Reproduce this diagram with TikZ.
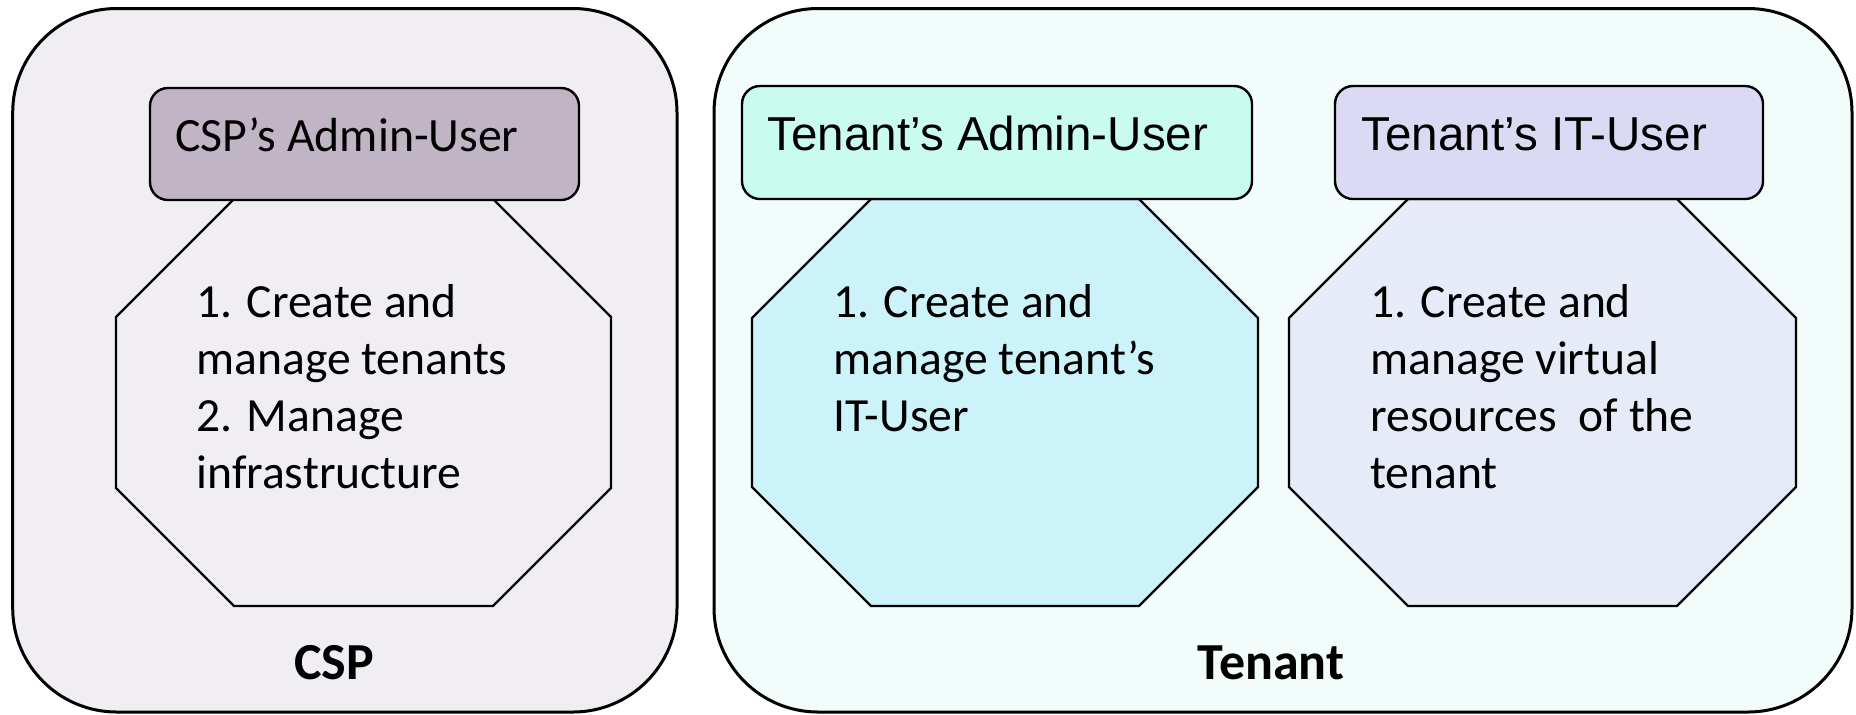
\documentclass[tikz,border=0pt]{standalone}
\usepackage{fontspec}
\setmainfont{Carlito}
\newfontfamily\hdrfont{Liberation Sans}
\usetikzlibrary{positioning}

\definecolor{cspbg}{HTML}{F0EEF2}
\definecolor{cspuser}{HTML}{C1B4C4}
\definecolor{tenbg}{HTML}{F2FCFA}
\definecolor{admuser}{HTML}{C9FCEF}
\definecolor{admoct}{HTML}{CCF2FA}
\definecolor{ituser}{HTML}{DBDAF5}
\definecolor{itoct}{HTML}{E6EBF8}

% octagon with corners cut at 45 degrees: x1, x2, y1, y2, cut
\newcommand{\cutoctagon}[6][]{%
  \draw[octline,#1] ({#2+#6},#4) -- ({#3-#6},#4) -- (#3,{#4+#6}) -- (#3,{#5-#6})
    -- ({#3-#6},#5) -- ({#2+#6},#5) -- (#2,{#5-#6}) -- (#2,{#4+#6}) -- cycle;}

\begin{document}
\begin{tikzpicture}[x=0.5pt,y=-0.5pt,
  container/.style={draw=black, line width=1.5pt, rounded corners=52pt,
    inner sep=0pt, outer sep=0pt, anchor=north west},
  userbox/.style={draw=black, line width=1.2pt, rounded corners=9pt,
    inner sep=0pt, outer sep=0pt, anchor=north west},
  octline/.style={draw=black, line width=1.2pt},
  hdrcsp/.style={anchor=base west, inner sep=0pt, font=\fontsize{23.9pt}{28pt}\selectfont},
  hdrten/.style={anchor=base west, inner sep=0pt, font=\hdrfont\fontsize{23.8pt}{28pt}\selectfont},
  duty/.style={anchor=base west, inner sep=0pt, align=left,
    font=\fontsize{23.8pt}{28.5pt}\selectfont},
  domainlabel/.style={anchor=base, inner sep=0pt, font=\bfseries\fontsize{26pt}{30pt}\selectfont}]

\useasboundingbox (0,0) rectangle (1856,714);

% the two domains
\node[container, fill=cspbg, minimum width=332.15pt, minimum height=351.75pt] (csp) at (12.7,8.5) {};
\node[container, fill=tenbg, minimum width=569pt, minimum height=351.75pt] (tenant) at (714,8.5) {};

% duty octagons
\cutoctagon[fill=cspbg]{116}{611}{199}{606}{118}
\cutoctagon[fill=admoct]{752}{1258}{199}{606}{119}
\cutoctagon[fill=itoct]{1289}{1796}{199}{606}{119}

% user boxes
\node[userbox, fill=cspuser, minimum width=214.5pt, minimum height=56pt] (cspadmin) at (150,88) {};
\node[userbox, fill=admuser, minimum width=255pt, minimum height=56.5pt] (tenadmin) at (742,86) {};
\node[userbox, fill=ituser, minimum width=214pt, minimum height=56.5pt] (tenit) at (1335,86) {};

\node[hdrcsp] (cspadminlbl) at (175,151) {CSP’s Admin-User};
\node[hdrten] (tenadminlbl) at (767,150) {Tenant’s Admin-User};
\node[hdrten] (tenitlbl) at (1361,150) {Tenant’s IT-User};

% duties (anchored at the baseline of the last line)
\node[duty] (cspduty) at (196,488) {1. Create and\\manage tenants\\2. Manage\\infrastructure};
\node[duty] (admduty) at (833,431) {1. Create and\\manage tenant’s\\IT-User};
\node[duty] (itduty) at (1370,488) {1. Create and\\manage virtual\\resources\ \ of the\\tenant};

% domain names
\node[domainlabel] (csplbl) at (334,679) {CSP};
\node[domainlabel] (tenantlbl) at (1271,679) {Tenant};
\end{tikzpicture}
\end{document}
